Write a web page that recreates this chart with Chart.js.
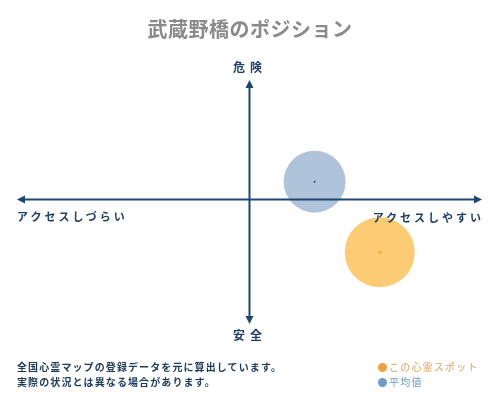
<!DOCTYPE html>
<html lang="ja">
<head>
<meta charset="utf-8">
<script src="https://cdn.jsdelivr.net/npm/chart.js@4"></script>
<style>
  body { margin: 0; background: #fff; }
  #wrap { position: relative; width: 500px; height: 400px; font-family: "Noto Sans CJK JP", sans-serif; }
  #wrap canvas { position: absolute; left: 0; top: 0; }
  .lbl { position: absolute; white-space: nowrap; line-height: 20px; }
  #titulo { left: 0; width: 500px; top: 19px; text-align: center; font-size: 20px; color: #8a8a8a; font-weight: bold; letter-spacing: 0.5px; }
  .eje { color: #1f3f66; font-weight: bold; font-size: 12px; }
  .nota { color: #1c3a5c; font-weight: bold; font-size: 10px; letter-spacing: 1.1px; left: 17px; }
  .ley { font-size: 10px; letter-spacing: 1.2px; left: 378px; }
  .ley span.dot { display: inline-block; width: 9px; height: 9px; border-radius: 50%; margin-right: 2px; vertical-align: -1px; }
</style>
</head>
<body>
<div id="wrap">
  <canvas id="grafico" width="500" height="400"></canvas>
  <div class="lbl" id="titulo"></div>
  <div class="lbl eje" id="arriba" style="left:0;width:500px;text-align:center;top:57px;letter-spacing:5px;"></div>
  <div class="lbl eje" id="abajo" style="left:0;width:500px;text-align:center;top:325px;letter-spacing:5px;"></div>
  <div class="lbl eje" id="izq" style="left:17px;top:206px;font-size:11px;letter-spacing:3px;"></div>
  <div class="lbl eje" id="der" style="right:16px;top:207px;font-size:11px;letter-spacing:3px;"></div>
  <div class="lbl nota" id="nota1" style="top:357px;"></div>
  <div class="lbl nota" id="nota2" style="top:372px;"></div>
  <div class="lbl ley" id="ley1" style="top:357px;color:#d9a35e;"><span class="dot" style="background:#f0a040"></span><span class="t"></span></div>
  <div class="lbl ley" id="ley2" style="top:372px;color:#6f9cc6;"><span class="dot" style="background:#6f9cc6"></span><span class="t"></span></div>
</div>
<script>
// textos
const titulo = '武蔵野橋のポジション';
const etiquetasEje = ['危険', '安全', 'アクセスしづらい', 'アクセスしやすい'];
const notas = ['全国心霊マップの登録データを元に算出しています。', '実際の状況とは異なる場合があります。'];
const series = ['この心霊スポット', '平均値'];

// valores (x: アクセス, y: 危険)
const valoresX = [56, 28];
const valoresY = [-44, 15];

document.getElementById('titulo').textContent = titulo;
document.getElementById('arriba').textContent = etiquetasEje[0];
document.getElementById('abajo').textContent = etiquetasEje[1];
document.getElementById('izq').textContent = etiquetasEje[2];
document.getElementById('der').textContent = etiquetasEje[3];
document.getElementById('nota1').textContent = notas[0];
document.getElementById('nota2').textContent = notas[1];
document.querySelector('#ley1 .t').textContent = series[0];
document.querySelector('#ley2 .t').textContent = series[1];

const punto = i => [{ x: valoresX[i], y: valoresY[i] }];

// ejes con flechas
const ejes = {
    id: 'ejes',
    afterDatasetsDraw(chart) {
        const { ctx, chartArea: a, scales } = chart;
        const cx = scales.x.getPixelForValue(0);
        const cy = scales.y.getPixelForValue(0);
        ctx.save();
        ctx.strokeStyle = '#1f4670';
        ctx.fillStyle = '#1f4670';
        ctx.lineWidth = 2;
        ctx.beginPath();
        ctx.moveTo(a.left + 4, cy); ctx.lineTo(a.right - 4, cy);
        ctx.moveTo(cx, a.top + 4); ctx.lineTo(cx, a.bottom - 4);
        ctx.stroke();
        const flecha = (x, y, dx, dy) => {
            ctx.beginPath();
            ctx.moveTo(x, y);
            ctx.lineTo(x - dx * 8 - dy * 4, y - dy * 8 - dx * 4);
            ctx.lineTo(x - dx * 8 + dy * 4, y - dy * 8 + dx * 4);
            ctx.closePath();
            ctx.fill();
        };
        flecha(a.right, cy, 1, 0);
        flecha(a.left, cy, -1, 0);
        flecha(cx, a.top, 0, -1);
        flecha(cx, a.bottom, 0, 1);
        ctx.restore();
    }
};

new Chart(document.getElementById('grafico'), {
    type: 'scatter',
    data: {
        datasets: [
            { label: series[0], data: punto(0), pointRadius: 35, pointHoverRadius: 35, backgroundColor: 'rgba(252,175,40,0.65)', borderWidth: 0 },
            { label: series[1], data: punto(1), pointRadius: 31, pointHoverRadius: 31, backgroundColor: 'rgba(70,115,170,0.43)', borderWidth: 0 },
            { data: punto(0), pointRadius: 2, pointStyle: 'rectRot', backgroundColor: '#f0a020', borderWidth: 0 },
            { data: punto(1), pointRadius: 1, backgroundColor: '#1a2a40', borderWidth: 0 }
        ]
    },
    options: {
        responsive: false,
        animation: false,
        layout: { autoPadding: false, padding: { left: 17, right: 18, top: 80, bottom: 76 } },
        scales: {
            x: { display: false, min: -100, max: 100 },
            y: { display: false, min: -104, max: 100 }
        },
        plugins: { legend: { display: false }, tooltip: { enabled: false }, title: { display: false } }
    },
    plugins: [ejes]
});
</script>
</body>
</html>
